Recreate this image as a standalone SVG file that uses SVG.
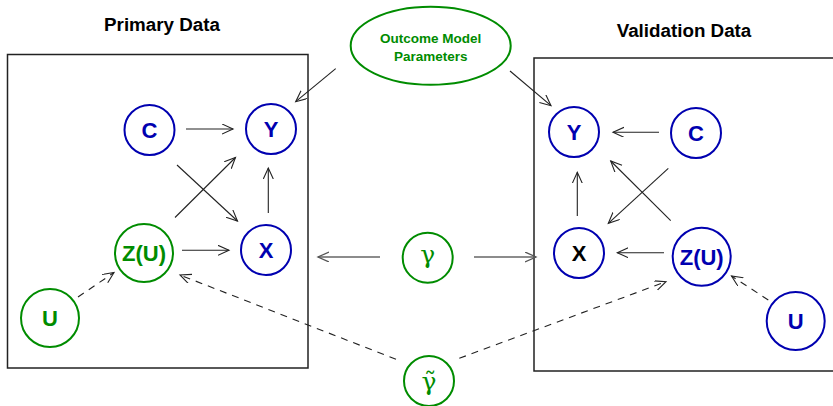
<svg xmlns="http://www.w3.org/2000/svg" width="833" height="406" viewBox="0 0 833 406">
  <style>
    .frame { fill: none; stroke: #222; stroke-width: 1.5; }
    .title { font-family: "Liberation Sans", Arial, sans-serif; font-weight: bold; font-size: 18.8px; fill: #000; text-anchor: middle; }
    .blue { fill: none; stroke: #0000b0; stroke-width: 2; }
    .green { fill: none; stroke: #008c00; stroke-width: 2; }
    .lab { font-family: "Liberation Sans", Arial, sans-serif; font-weight: bold; font-size: 22px; text-anchor: middle; }
    .lb { fill: #0000b0; }
    .lg { fill: #008c00; }
    .lk { fill: #000; }
    .greek { font-family: "DejaVu Serif", serif; font-size: 25px; fill: #008c00; text-anchor: middle; }
    .small { font-family: "Liberation Sans", Arial, sans-serif; font-weight: bold; font-size: 13.5px; fill: #008c00; text-anchor: middle; }
    .edge { fill: none; stroke: #222; stroke-width: 1.1; marker-end: url(#arrow); }
    .dash { stroke-dasharray: 7 6; }
    .gray { stroke: #666; stroke-width: 1.6; marker-end: url(#arrowg); }
  </style>
  <defs>
    <marker id="arrow" markerUnits="userSpaceOnUse" markerWidth="14" markerHeight="14" refX="11" refY="5" orient="auto">
      <path d="M0,0 L11,5 L0,10" fill="none" stroke="#222" stroke-width="1.1"/>
    </marker>
    <marker id="arrowg" markerUnits="userSpaceOnUse" markerWidth="14" markerHeight="14" refX="11" refY="5" orient="auto">
      <path d="M0,0 L11,5 L0,10" fill="none" stroke="#555" stroke-width="1.3"/>
    </marker>
  </defs>

  <rect width="833" height="406" fill="#fff"/>

  <!-- panel frames and titles -->
  <g id="primary-panel">
    <rect class="frame" x="7.5" y="54.5" width="300.5" height="313.5"/>
    <text class="title" x="162" y="31">Primary Data</text>
  </g>
  <g id="validation-panel">
    <path class="frame" d="M840,58 L534,58 L534,371 L840,371"/>
    <text class="title" x="684" y="36.5">Validation Data</text>
  </g>

  <!-- connectors -->
  <g id="connectors">
    <!-- primary -->
    <line class="edge" x1="186" y1="129" x2="233" y2="129"/>
    <line class="edge" x1="177" y1="165" x2="237.5" y2="221"/>
    <line class="edge" x1="175" y1="217.5" x2="235.5" y2="157.5"/>
    <line class="edge" x1="268.3" y1="213" x2="268.3" y2="168"/>
    <line class="edge" x1="182" y1="250.3" x2="229" y2="250.3"/>
    <line class="edge dash" x1="78" y1="297" x2="114" y2="272.5"/>
    <!-- validation -->
    <line class="edge" x1="659" y1="132.3" x2="613" y2="132.3"/>
    <line class="edge" x1="668.3" y1="168.3" x2="608.3" y2="223.3"/>
    <line class="edge" x1="670.7" y1="220.7" x2="610.7" y2="161"/>
    <line class="edge" x1="577.3" y1="216" x2="577.3" y2="172.3"/>
    <line class="edge" x1="664" y1="252.7" x2="617.3" y2="252.7"/>
    <line class="edge dash" x1="768.3" y1="300" x2="731.5" y2="276"/>
    <!-- shared parameters -->
    <line class="edge" x1="335.7" y1="68.7" x2="295.7" y2="101.7"/>
    <line class="edge" x1="510" y1="71" x2="551" y2="105.7"/>
    <line class="edge gray" x1="380" y1="257" x2="318" y2="257"/>
    <line class="edge gray" x1="474" y1="257" x2="536" y2="257"/>
    <line class="edge dash" x1="396" y1="359.3" x2="180" y2="275"/>
    <line class="edge dash" x1="459.3" y1="358.3" x2="666" y2="281.7"/>
  </g>

  <!-- primary nodes -->
  <g id="p-C">
    <circle class="blue" cx="149.5" cy="130" r="25"/>
    <text class="lab lb" x="149.5" y="138">C</text>
  </g>
  <g id="p-Y">
    <circle class="blue" cx="271" cy="129" r="25"/>
    <text class="lab lb" x="271" y="137">Y</text>
  </g>
  <g id="p-X">
    <circle class="blue" cx="266" cy="250" r="25"/>
    <text class="lab lb" x="266" y="258">X</text>
  </g>
  <g id="p-ZU">
    <circle class="green" cx="144" cy="253" r="29"/>
    <text class="lab lg" x="144" y="261">Z(U)</text>
  </g>
  <g id="p-U">
    <circle class="green" cx="50" cy="318" r="29"/>
    <text class="lab lg" x="50" y="326">U</text>
  </g>

  <!-- validation nodes -->
  <g id="v-Y">
    <circle class="blue" cx="574" cy="132" r="25"/>
    <text class="lab lb" x="574" y="140">Y</text>
  </g>
  <g id="v-C">
    <circle class="blue" cx="696" cy="133" r="25"/>
    <text class="lab lb" x="696" y="141">C</text>
  </g>
  <g id="v-X">
    <circle class="blue" cx="579" cy="253" r="25"/>
    <text class="lab lk" x="579" y="261">X</text>
  </g>
  <g id="v-ZU">
    <circle class="blue" cx="701.7" cy="256.7" r="29"/>
    <text class="lab lb" x="701.7" y="264.7">Z(U)</text>
  </g>
  <g id="v-U">
    <circle class="blue" cx="795.7" cy="321" r="29"/>
    <text class="lab lb" x="795.7" y="329">U</text>
  </g>

  <!-- parameter nodes -->
  <g id="outcome-params">
    <ellipse class="green" cx="430.7" cy="45.7" rx="80" ry="39"/>
    <text class="small" x="430.7" y="42.5">Outcome Model</text>
    <text class="small" x="430.7" y="61">Parameters</text>
  </g>
  <g id="gamma">
    <circle class="green" cx="427.7" cy="257.7" r="25"/>
    <text class="greek" x="427.7" y="263">γ</text>
  </g>
  <g id="gamma-tilde">
    <circle class="green" cx="429" cy="381" r="25"/>
    <text class="greek" x="429" y="390">γ̃</text>
  </g>
</svg>
